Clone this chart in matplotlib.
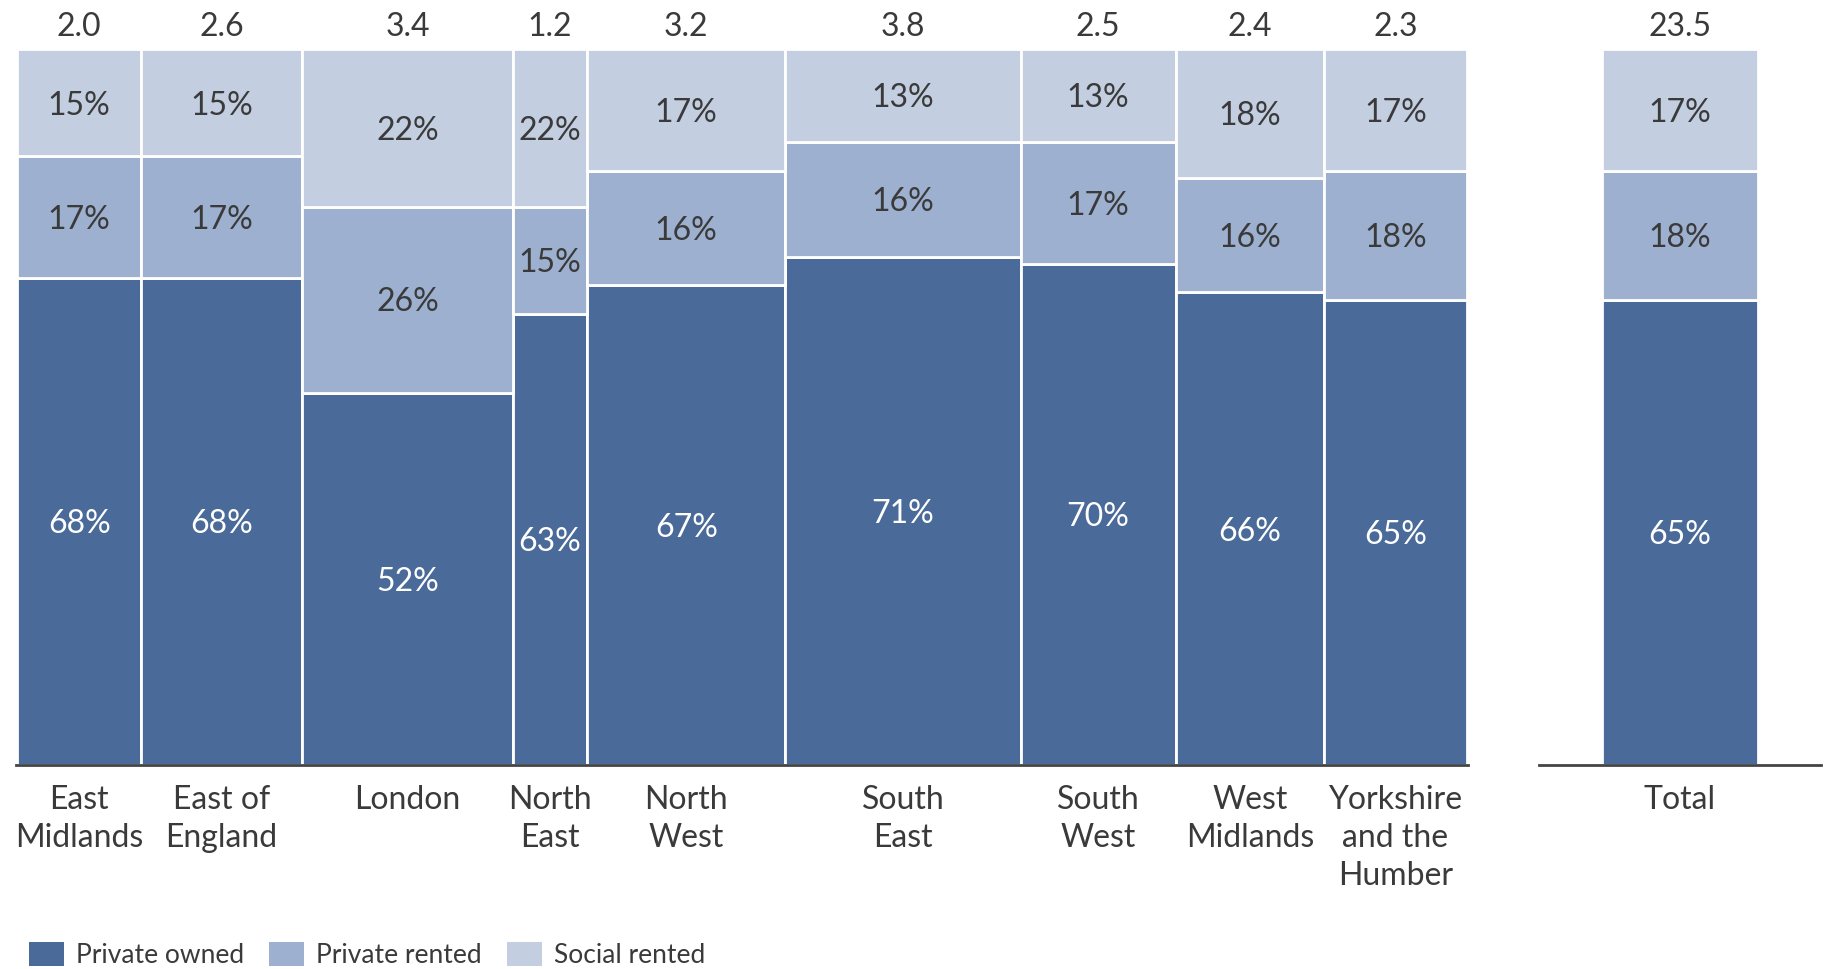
import matplotlib
matplotlib.use("Agg")
import matplotlib.pyplot as plt
from matplotlib.patches import Patch
import numpy as np

plt.rcParams['font.family'] = ['Lato', 'DejaVu Sans']

# data
regions = ['East\nMidlands', 'East of\nEngland', 'London', 'North\nEast', 'North\nWest',
           'South\nEast', 'South\nWest', 'West\nMidlands', 'Yorkshire\nand the\nHumber']
households = [2.0, 2.6, 3.4, 1.2, 3.2, 3.8, 2.5, 2.4, 2.3]   # millions (bar widths)
private_owned = [68, 68, 52, 63, 67, 71, 70, 66, 65]
private_rented = [17, 17, 26, 15, 16, 16, 17, 16, 18]
social_rented = [15, 15, 22, 22, 17, 13, 13, 18, 17]
total_households = 23.5
total_shares = [65, 18, 17]
series_names = ['Private owned', 'Private rented', 'Social rented']

colors = ['#4a6a99', '#9db0cf', '#c3cee1']
txt_dark = '#3a3a3a'
fs = 23

W, H = 1828, 969
fig = plt.figure(figsize=(W / 100, H / 100), dpi=100)

# main marimekko
ax = fig.add_axes([16 / W, 1 - 765 / H, (1468 - 16) / W, 716 / H])
widths = np.array(households)
lefts = np.concatenate([[0], np.cumsum(widths)[:-1]])
centers = lefts + widths / 2
series = [private_owned, private_rented, social_rented]

bottom = np.zeros(len(regions))
for k, vals in enumerate(series):
    v = np.array(vals) / 100.0
    ax.bar(lefts, v, width=widths, bottom=bottom, align='edge', color=colors[k],
           edgecolor='white', linewidth=2)
    for i in range(len(regions)):
        ax.text(centers[i], bottom[i] + v[i] / 2 - 0.004, f'{vals[i]}%', ha='center', va='center',
                fontsize=fs, color='white' if k == 0 else txt_dark)
    bottom += v

for i in range(len(regions)):
    ax.annotate(f'{households[i]:.1f}', (centers[i], 1), xytext=(0, 5), textcoords='offset points',
                ha='center', va='bottom', fontsize=fs, color=txt_dark)
    ax.annotate(regions[i], (centers[i], 0), xytext=(0, -14.5), textcoords='offset points',
                ha='center', va='top', fontsize=fs, color=txt_dark, linespacing=1.33)

ax.set_xlim(-0.02, sum(households) + 0.02)
ax.set_ylim(0, 1)

# total bar
ax2 = fig.add_axes([1539 / W, 1 - 765 / H, (1821 - 1539) / W, 716 / H])
b = 0
for k, s in enumerate(total_shares):
    v = s / 100.0
    ax2.bar(0.5, v, width=0.55, bottom=b, color=colors[k], edgecolor='white', linewidth=2)
    ax2.text(0.5, b + v / 2 - 0.004, f'{s}%', ha='center', va='center', fontsize=fs,
             color='white' if k == 0 else txt_dark)
    b += v
ax2.annotate(f'{total_households:.1f}', (0.5, 1), xytext=(0, 5), textcoords='offset points',
             ha='center', va='bottom', fontsize=fs, color=txt_dark)
ax2.annotate('Total', (0.5, 0), xytext=(0, -14.5), textcoords='offset points',
             ha='center', va='top', fontsize=fs, color=txt_dark)
ax2.set_xlim(0, 1)
ax2.set_ylim(0, 1)

for a in (ax, ax2):
    for sp in ('top', 'right', 'left'):
        a.spines[sp].set_visible(False)
    a.spines['bottom'].set_color('#444444')
    a.spines['bottom'].set_linewidth(2)
    a.set_xticks([])
    a.set_yticks([])
    a.patch.set_alpha(0)

handles = [Patch(facecolor=c, edgecolor='none') for c in colors]
fig.legend(handles, series_names, loc='center left', bbox_to_anchor=(29 / W, 14 / H), ncol=3,
           frameon=False, fontsize=19, handlelength=1.33, handleheight=1.0,
           handletextpad=0.45, columnspacing=0.95, borderpad=0, borderaxespad=0,
           labelcolor=txt_dark)

fig.savefig('out.png', dpi=100)
